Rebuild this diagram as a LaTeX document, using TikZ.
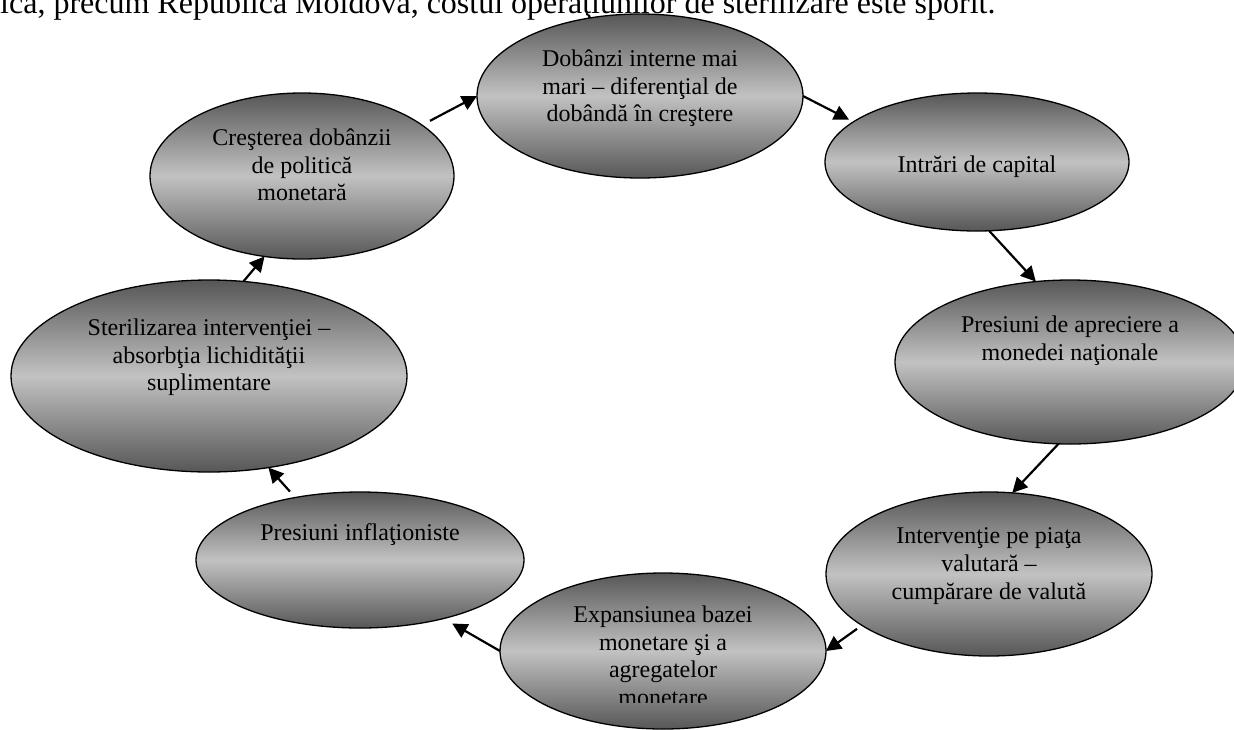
\documentclass[tikz,border=0pt]{standalone}
\usepackage{fontspec}
\setmainfont{Liberation Serif}
\usetikzlibrary{arrows.meta, positioning, shapes.geometric}
\definecolor{ovaldark}{gray}{0.34}
\definecolor{ovallight}{gray}{0.76}

\begin{document}
\begin{tikzpicture}[
  x=1pt, y=-1pt,
  oval/.style={ellipse, draw, line width=1.3pt, inner sep=0pt, outer sep=0pt,
               top color=ovaldark, bottom color=ovaldark, middle color=ovallight},
  txt/.style={align=center, inner sep=0pt,
              font=\fontsize{24}{27.6}\selectfont, execute at begin node=\strut},
  arr/.style={-{Triangle[length=15pt, width=15pt]}, line width=2.2pt}
]
  \useasboundingbox (0,0) rectangle (1234,729);
  \node[anchor=base west, inner sep=0pt, font=\fontsize{32}{38}\selectfont] (head) at (0,13)
    {ica, precum Republica Moldova, costul operaţiunilor de sterilizare este sporit.};

  \node[oval, minimum width=326pt, minimum height=164pt] (e1) at (640,96) {};
  \node[oval, minimum width=304pt, minimum height=138pt] (e2) at (977,162) {};
  \node[oval, minimum width=350pt, minimum height=164pt] (e3) at (1070,362) {};
  \node[oval, minimum width=326pt, minimum height=164pt] (e4) at (989,574) {};
  \node[oval, minimum width=326pt, minimum height=156pt] (e5) at (663,651) {};
  \node[oval, minimum width=328pt, minimum height=136pt] (e6) at (360,560) {};
  \node[oval, minimum width=396pt, minimum height=192pt] (e7) at (209,376) {};
  \node[oval, minimum width=304pt, minimum height=166pt] (e8) at (302,176) {};

  \node[txt, below=35.7pt of e1.north] (t1) {Dobânzi interne mai\\mari – diferenţial de\\dobândă în creştere};
  \node[txt, below=59.7pt of e2.north] (t2) {Intrări de capital};
  \node[txt, below=35.7pt of e3.north] (t3) {Presiuni de apreciere a\\monedei naţionale};
  \node[txt, below=35.7pt of e4.north] (t4) {Intervenţie pe piaţa\\valutară –\\cumpărare de valută};
  \begin{scope}
    \clip (0,0) rectangle (1234,702);
    \node[txt, below=32.7pt of e5.north] (t5) {Expansiunea bazei\\monetare şi a\\agregatelor\\monetare};
  \end{scope}
  \node[txt, below=28.7pt of e6.north] (t6) {Presiuni inflaţioniste};
  \node[txt, below=38.7pt of e7.north] (t7) {Sterilizarea intervenţiei –\\absorbţia lichidităţii\\suplimentare};
  \node[txt, below=35.7pt of e8.north] (t8) {Creşterea dobânzii\\de politică\\monetară};

  \draw[arr, shorten <=9pt] (e8.23) -- (e1.west);
  \draw[arr, shorten >=5pt] (e1.east) -- (e2.162);
  \draw[arr] (e2.280) -- (e3.113);
  \draw[arr] (e3.262) -- (e4.74);
  \draw[arr, shorten <=6pt] (e4.202) -- (e5.east);
  \draw[arr, shorten >=10pt] (e5.west) -- (e6.325);
  \draw[arr, shorten <=8pt] (e6.136) -- (e7.303);
  \draw[arr] (e7.70) -- (e8.245);
\end{tikzpicture}
\end{document}
